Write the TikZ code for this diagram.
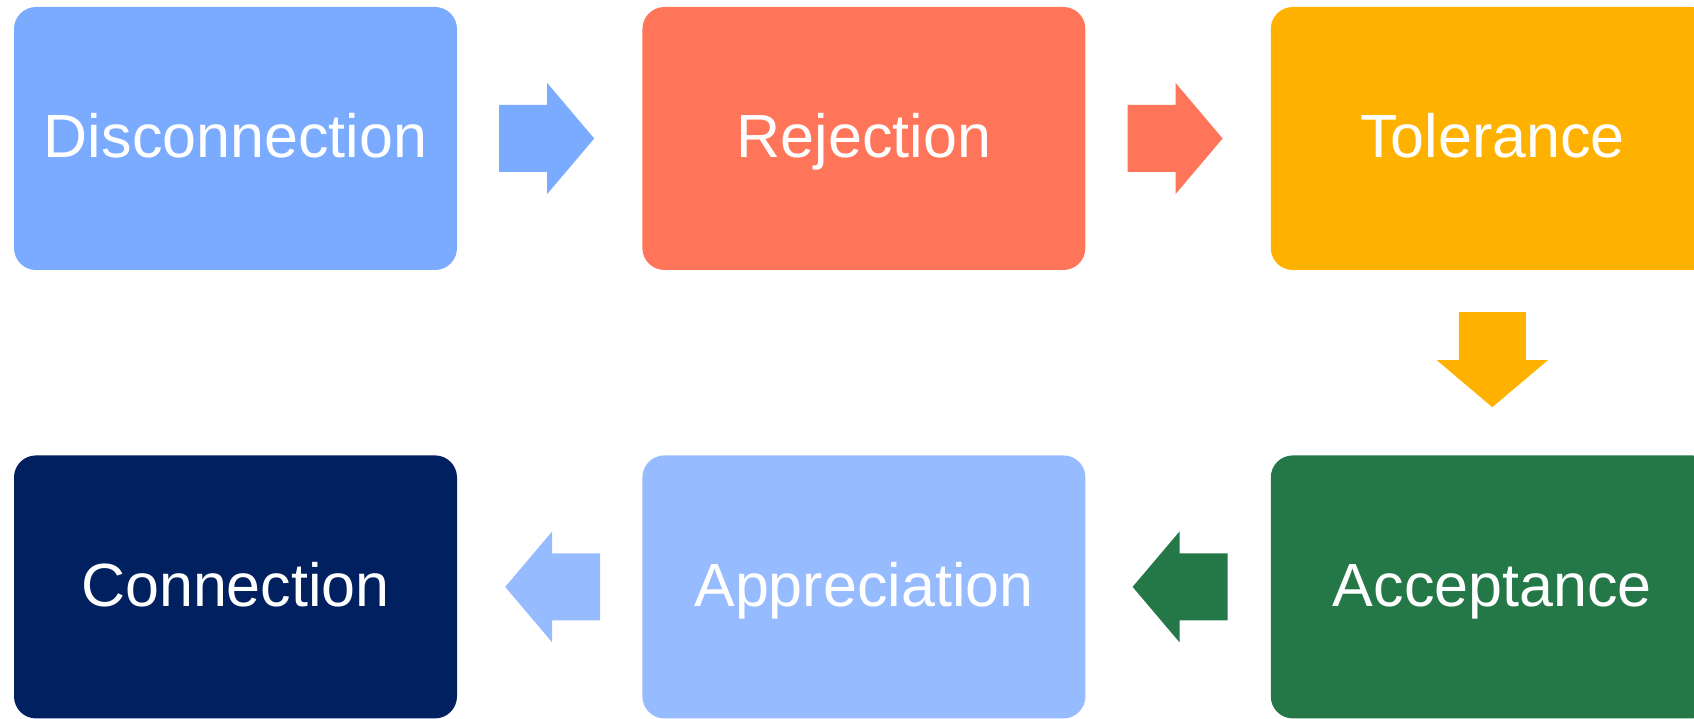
\documentclass[tikz,border=0pt]{standalone}
\usepackage{fontspec}
\setmainfont{Liberation Sans}
\usetikzlibrary{positioning,calc}

\definecolor{discblue}{HTML}{7BABFF}
\definecolor{rejred}{HTML}{FF7559}
\definecolor{tolyellow}{HTML}{FFB100}
\definecolor{accgreen}{HTML}{247848}
\definecolor{appblue}{HTML}{97BBFF}
\definecolor{connavy}{HTML}{012060}

\begin{document}
\begin{tikzpicture}[x=1pt, y=1pt,
  stage/.style={rectangle, rounded corners=22pt, minimum width=443pt, minimum height=263pt,
    inner sep=0pt, text=white, font=\fontsize{61}{70}\selectfont, text height=50pt, text depth=11.6pt},
  node distance=185pt and 185pt,
  pics/blockarrow/.style={code={
    \fill[#1] (0,-33.5) -- (48,-33.5) -- (48,-55.5) -- (95,0) -- (48,55.5) -- (48,33.5) -- (0,33.5) -- cycle;}}]
\useasboundingbox (0,0) rectangle (1694,718);

% top row
\node[stage, fill=discblue] (disc) at (235.5,579.5) {Disconnection};
\node[stage, fill=rejred, right=of disc] (rej) {Rejection};
\node[stage, fill=tolyellow, right=of rej] (tol) {Tolerance};

% bottom row
\node[stage, fill=accgreen, below=of tol] (acc) {Acceptance};
\node[stage, fill=appblue, left=of acc] (app) {Appreciation};
\node[stage, fill=connavy, left=of app] (conn) {Connection};

% arrows
\pic at ($(disc.east)+(42,0)$) {blockarrow=discblue};
\pic at ($(rej.east)+(42,0)$) {blockarrow=rejred};
\pic[rotate=-90] at ($(tol.south)+(0,-42)$) {blockarrow=tolyellow};
\pic[rotate=180] at ($(acc.west)+(-43,0)$) {blockarrow=accgreen};
\pic[rotate=180] at ($(app.west)+(-42,0)$) {blockarrow=appblue};
\end{tikzpicture}
\end{document}
